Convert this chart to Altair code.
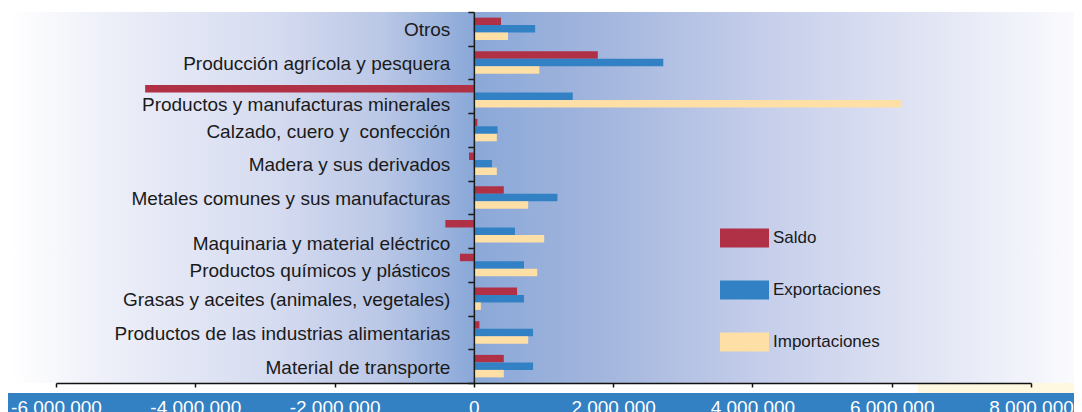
import altair as alt
import pandas as pd

categories = [
    "Otros",
    "Producción agrícola y pesquera",
    "Productos y manufacturas minerales",
    "Calzado, cuero y\u00a0 confección",
    "Madera y sus derivados",
    "Metales comunes y sus manufacturas",
    "Maquinaria y material eléctrico",
    "Productos químicos y plásticos",
    "Grasas y aceites (animales, vegetales)",
    "Productos de las industrias alimentarias",
    "Material de transporte",
]
series = ["Saldo", "Exportaciones", "Importaciones"]
# values in millions
saldo = [0.39, 1.78, -4.72, 0.05, -0.07, 0.43, -0.41, -0.20, 0.62, 0.08, 0.43]
exportaciones = [0.88, 2.72, 1.42, 0.34, 0.26, 1.20, 0.59, 0.72, 0.72, 0.85, 0.85]
importaciones = [0.49, 0.94, 6.14, 0.33, 0.33, 0.78, 1.01, 0.91, 0.10, 0.78, 0.43]
x_ticks = [-6000000, -4000000, -2000000, 0, 2000000, 4000000, 6000000, 8000000]
colors = ["#B03146", "#3281C4", "#FEDFA5"]

rows = []
for i, c in enumerate(categories):
    for s, vals in zip(series, [saldo, exportaciones, importaciones]):
        rows.append({"categoria": c, "serie": s, "valor": vals[i] * 1e6})
df = pd.DataFrame(rows)
dummy = pd.DataFrame({"d": [0]})

W, H = 975, 371
RIGHT = 43
FONT = "Liberation Sans"
zero_px = W * 6 / 14

grad = alt.LinearGradient(
    gradient="linear",
    x1=0, x2=1, y1=0, y2=0,
    stops=[
        alt.GradientStop(offset=0.0, color="#ffffff"),
        alt.GradientStop(offset=0.10, color="#eceef8"),
        alt.GradientStop(offset=0.25, color="#d5dbf0"),
        alt.GradientStop(offset=0.35, color="#bac7e6"),
        alt.GradientStop(offset=0.434, color="#8aa8d8"),
        alt.GradientStop(offset=0.55, color="#a2b5dd"),
        alt.GradientStop(offset=0.70, color="#c4cdea"),
        alt.GradientStop(offset=0.85, color="#dfe3f3"),
        alt.GradientStop(offset=1.0, color="#fbfbfe"),
    ],
)

bg = alt.Chart(dummy).mark_rect(color=grad).encode(
    x=alt.value(-46), x2=alt.value(1021), y=alt.value(0), y2=alt.value(H)
)
band = alt.Chart(dummy).mark_rect(color="#3380C3").encode(
    x=alt.value(-48), x2=alt.value(W + RIGHT), y=alt.value(381), y2=alt.value(412)
)
cream1 = alt.Chart(dummy).mark_rect(color="#FEF8E1").encode(
    x=alt.value(862), x2=alt.value(W + RIGHT), y=alt.value(H), y2=alt.value(381)
)
cream2 = alt.Chart(dummy).mark_rect(color="#FEF8E1").encode(
    x=alt.value(1021), x2=alt.value(W + RIGHT), y=alt.value(71), y2=alt.value(H)
)

label_expr = "replace(replace(replace(format(datum.value, ','), ',', '.'), ',', '.'), '\u2212', '-')"

label_shift = {
    "condition": [
        {"test": "datum.value == 'Productos y manufacturas minerales'", "value": 8},
        {"test": "datum.value == 'Maquinaria y material eléctrico'", "value": 12},
        {"test": "datum.value == 'Productos químicos y plásticos'", "value": 6},
    ],
    "value": 1,
}

bars = alt.Chart(df).mark_bar().encode(
    y=alt.Y(
        "categoria:N",
        sort=categories,
        scale=alt.Scale(paddingInner=0, paddingOuter=0),
        axis=alt.Axis(
            title=None,
            offset=-zero_px,
            zindex=1,
            domainColor="#1a1a1a",
            domainWidth=1.5,
            tickColor="#1a1a1a",
            tickWidth=1.5,
            tickSize=6,
            tickBand="extent",
            labelFont=FONT,
            labelFontSize=19,
            labelColor="#1a1a1a",
            labelPadding=18,
            labelLimit=0,
            labelOffset=label_shift,
        ),
    ),
    x=alt.X(
        "valor:Q",
        scale=alt.Scale(domain=[-6000000, 8000000], nice=False),
        axis=alt.Axis(
            title=None,
            values=x_ticks,
            labelExpr=label_expr,
            labelFlush=False,
            zindex=1,
            grid=False,
            domainColor="#111111",
            domainWidth=1.5,
            tickColor="#111111",
            tickWidth=1.5,
            tickSize=4,
            labelFont=FONT,
            labelFontSize=19,
            labelColor="#ffffff",
            labelPadding=11,
        ),
    ),
    yOffset=alt.YOffset(
        "serie:N", sort=series, scale=alt.Scale(paddingOuter=0.75, paddingInner=0)
    ),
    color=alt.Color(
        "serie:N",
        sort=series,
        scale=alt.Scale(domain=series, range=colors),
        legend=alt.Legend(
            title=None,
            orient="none",
            legendX=664,
            legendY=201.5,
            symbolType="M-1,-0.388L1,-0.388L1,0.388L-1,0.388Z",
            symbolSize=2401,
            symbolStrokeWidth=0,
            symbolOpacity=1,
            labelFont=FONT,
            labelFontSize=17,
            labelColor="#1a1a1a",
            labelOffset=4,
            rowPadding=17,
            padding=0,
        ),
    ),
)

chart = (
    alt.layer(bg, band, cream1, cream2, bars)
    .properties(
        width=W,
        height=H,
        padding={"left": 48, "top": 4, "right": RIGHT, "bottom": 33},
        autosize=alt.AutoSizeParams(type="none"),
    )
    .configure_view(strokeWidth=0)
)

chart.save("out.html", embed_options={"renderer": "svg", "actions": False})
